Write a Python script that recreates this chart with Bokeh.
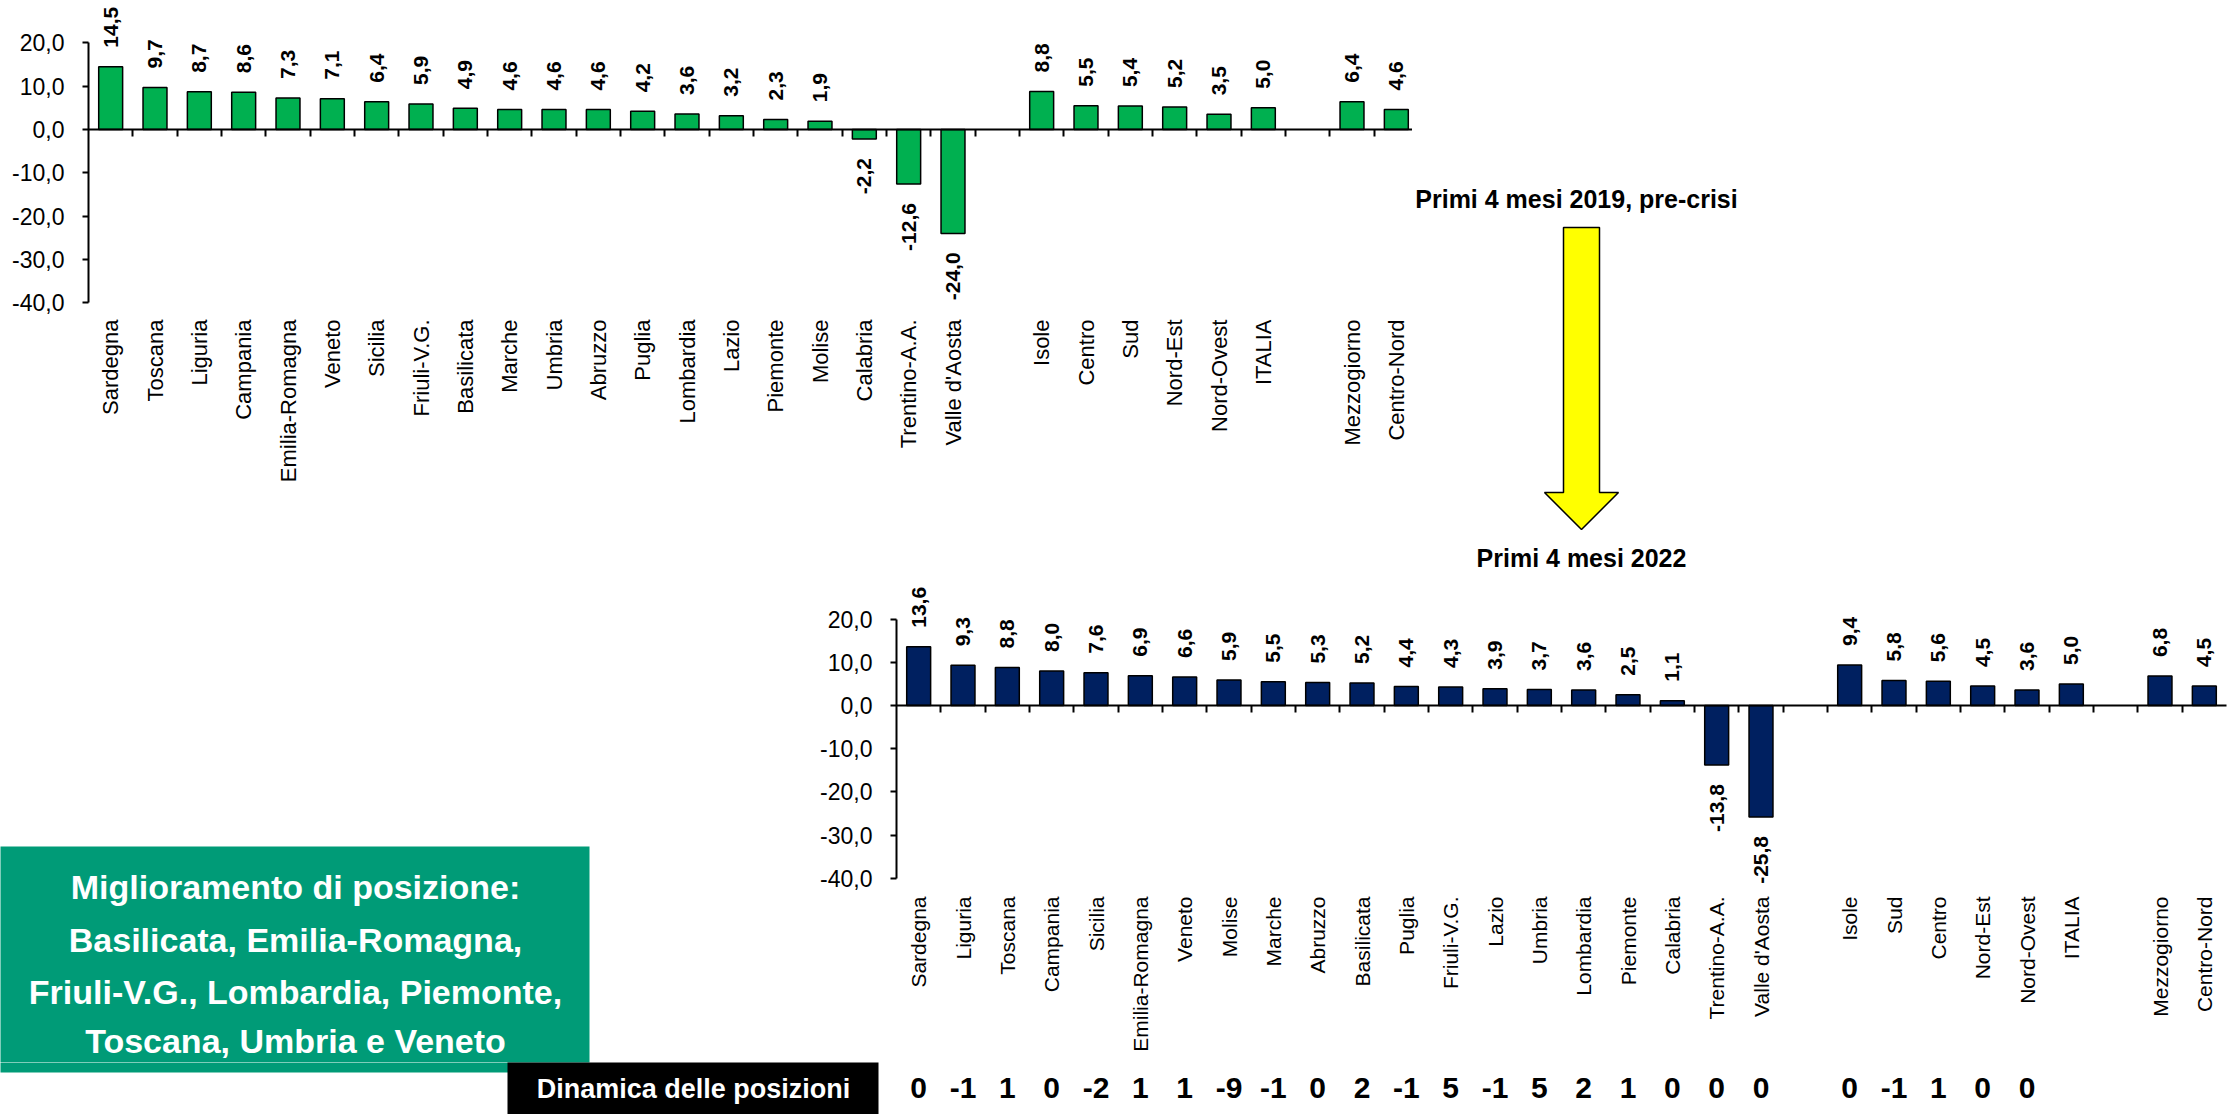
from math import pi
from bokeh.plotting import figure
from bokeh.models import Range1d, LinearAxis, FixedTicker, ColumnDataSource
from bokeh.layouts import column, row
from bokeh.core.properties import value
from bokeh.embed import file_html
from bokeh.resources import INLINE

# ---------------- data ----------------
regioni_2019 = ["Sardegna", "Toscana", "Liguria", "Campania", "Emilia-Romagna", "Veneto", "Sicilia",
                "Friuli-V.G.", "Basilicata", "Marche", "Umbria", "Abruzzo", "Puglia", "Lombardia", "Lazio",
                "Piemonte", "Molise", "Calabria", "Trentino-A.A.", "Valle d'Aosta"]
valori_regioni_2019 = [14.5, 9.7, 8.7, 8.6, 7.3, 7.1, 6.4, 5.9, 4.9, 4.6, 4.6, 4.6, 4.2, 3.6, 3.2,
                       2.3, 1.9, -2.2, -12.6, -24.0]
aree_2019 = ["Isole", "Centro", "Sud", "Nord-Est", "Nord-Ovest", "ITALIA"]
valori_aree_2019 = [8.8, 5.5, 5.4, 5.2, 3.5, 5.0]
macro_2019 = ["Mezzogiorno", "Centro-Nord"]
valori_macro_2019 = [6.4, 4.6]

regioni_2022 = ["Sardegna", "Liguria", "Toscana", "Campania", "Sicilia", "Emilia-Romagna", "Veneto", "Molise",
                "Marche", "Abruzzo", "Basilicata", "Puglia", "Friuli-V.G.", "Lazio", "Umbria", "Lombardia",
                "Piemonte", "Calabria", "Trentino-A.A.", "Valle d'Aosta"]
valori_regioni_2022 = [13.6, 9.3, 8.8, 8.0, 7.6, 6.9, 6.6, 5.9, 5.5, 5.3, 5.2, 4.4, 4.3, 3.9, 3.7, 3.6,
                       2.5, 1.1, -13.8, -25.8]
aree_2022 = ["Isole", "Sud", "Centro", "Nord-Est", "Nord-Ovest", "ITALIA"]
valori_aree_2022 = [9.4, 5.8, 5.6, 4.5, 3.6, 5.0]
macro_2022 = ["Mezzogiorno", "Centro-Nord"]
valori_macro_2022 = [6.8, 4.5]

dinamica_regioni = [0, -1, 1, 0, -2, 1, 1, -9, -1, 0, 2, -1, 5, -1, 5, 2, 1, 0, 0, 0]
dinamica_aree = [0, -1, 1, 0, 0]

y_ticks = [-40, -30, -20, -10, 0, 10, 20]

titolo_2019 = "Primi 4 mesi 2019, pre-crisi"
titolo_2022 = "Primi 4 mesi 2022"
box_lines = ["Miglioramento di posizione:", "Basilicata, Emilia-Romagna,",
             "Friuli-V.G., Lombardia, Piemonte,", "Toscana, Umbria e Veneto"]
box_dinamica = "Dinamica delle posizioni"

# ---------------- layout helpers ----------------
SLOT = 1330 / 30
SANS = "Liberation Sans"


def slot_positions(reg, are, mac):
    p_reg = list(range(len(reg)))
    p_are = [len(reg) + 1 + i for i in range(len(are))]
    p_mac = [len(reg) + len(are) + 2 + i for i in range(len(mac))]
    return p_reg, p_are, p_mac


def fmt(v):
    return f"{v:.1f}".replace(".", ",")


def pixel_fig(x0, x1, y0, y1):
    p = figure(width=x1 - x0, height=y1 - y0, x_range=Range1d(x0, x1), y_range=Range1d(y1, y0),
               output_backend="svg", toolbar_location=None, tools="",
               x_axis_type=None, y_axis_type=None, min_border=0, frame_align=False)
    p.outline_line_color = None
    p.background_fill_color = "white"
    p.border_fill_color = "white"
    return p


def bar_chart(box, frame, zero_y, ppu, label_top, label_size, color, names, pos, vals):
    x0, x1, y0, y1 = box
    fl, fr, ft, fb = frame
    n_slots = 30
    p = figure(width=x1 - x0, height=y1 - y0,
               x_range=Range1d(-0.5, -0.5 + (fr - fl) / SLOT),
               y_range=Range1d((zero_y - fb) / ppu, (zero_y - ft) / ppu),
               output_backend="svg", toolbar_location=None, tools="",
               x_axis_type=None, y_axis_type=None, frame_align=False,
               min_border_left=fl - x0, min_border_right=x1 - fr,
               min_border_top=ft - y0, min_border_bottom=y1 - fb)
    p.outline_line_color = None
    p.background_fill_color = "white"
    p.border_fill_color = "white"
    p.extra_x_ranges = {"px": Range1d(fl, fr)}
    p.extra_y_ranges = {"py": Range1d(fb, ft)}

    # category labels axis
    lab = LinearAxis(ticker=FixedTicker(ticks=pos, minor_ticks=[]),
                     major_label_overrides={k: n for k, n in zip(pos, names)},
                     major_label_orientation=pi / 2)
    lab.axis_line_color = None
    lab.major_tick_line_color = None
    lab.minor_tick_line_color = None
    lab.major_tick_out = 0
    lab.major_tick_in = 0
    lab.major_label_standoff = label_top - fb
    lab.major_label_text_font = SANS
    lab.major_label_text_font_size = label_size
    lab.major_label_text_color = "black"
    p.add_layout(lab, "below")

    # zero line with ticks between categories
    bnd = [i + 0.5 for i in range(n_slots - 1)]
    zero = LinearAxis(fixed_location=0, ticker=FixedTicker(ticks=bnd, minor_ticks=[]),
                      bounds=(-0.5, n_slots - 0.5),
                      major_label_overrides={b: "" for b in bnd})
    zero.major_tick_out = 7
    zero.major_tick_in = 0
    zero.axis_line_width = 2
    zero.axis_line_color = "black"
    zero.major_tick_line_width = 2
    zero.major_tick_line_color = "black"
    zero.minor_tick_line_color = None
    zero.major_label_text_font_size = "1px"
    p.add_layout(zero, "below")

    # value axis
    yax = LinearAxis(ticker=FixedTicker(ticks=y_ticks, minor_ticks=[]),
                     major_label_overrides={t: fmt(t) for t in y_ticks},
                     bounds=(min(y_ticks), max(y_ticks)))
    yax.axis_line_width = 2
    yax.axis_line_color = "black"
    yax.major_tick_line_width = 2
    yax.major_tick_out = 6
    yax.major_tick_in = 0
    yax.minor_tick_line_color = None
    yax.major_label_standoff = 18
    yax.major_label_text_font = SANS
    yax.major_label_text_font_size = "23px"
    yax.major_label_text_color = "black"
    p.add_layout(yax, "left")

    src = ColumnDataSource(dict(x=pos, top=vals))
    p.vbar(x="x", top="top", width=0.54, bottom=0, source=src,
           fill_color=color, line_color="black", line_width=1.5)

    pos_src = ColumnDataSource(dict(x=[x for x, v in zip(pos, vals) if v >= 0],
                                    y=[v for v in vals if v >= 0],
                                    t=[fmt(v) for v in vals if v >= 0]))
    neg_src = ColumnDataSource(dict(x=[x for x, v in zip(pos, vals) if v < 0],
                                    y=[v for v in vals if v < 0],
                                    t=[fmt(v) for v in vals if v < 0]))
    common = dict(angle=pi / 2, text_baseline="middle", text_font=value(SANS),
                  text_font_style="bold", text_font_size="21px", text_color="black")
    p.text(x="x", y="y", text="t", source=pos_src, text_align="left", y_offset=-19, **common)
    p.text(x="x", y="y", text="t", source=neg_src, text_align="right", y_offset=19, **common)
    return p


# ---------------- top chart: 2019 ----------------
r19, a19, m19 = slot_positions(regioni_2019, aree_2019, macro_2019)
top = bar_chart(box=(0, 1412, 0, 535), frame=(88, 1412, 0, 305), zero_y=129, ppu=4.33, label_top=319,
                label_size="22px", color="#00B050",
                names=regioni_2019 + aree_2019 + macro_2019, pos=r19 + a19 + m19,
                vals=valori_regioni_2019 + valori_aree_2019 + valori_macro_2019)

# ---------------- right panel: title + arrow ----------------
right = pixel_fig(1412, 2230, 0, 535)
right.text(x=[1576], y=[198], text=[titolo_2019], text_align="center", text_baseline="middle",
           text_font=value(SANS), text_font_style="bold", text_font_size="25px", text_color="black")
right.patch(x=[1563, 1599, 1599, 1618, 1581, 1544, 1563],
            y=[227, 227, 492, 492, 529, 492, 492],
            fill_color="#FFFF00", line_color="black", line_width=1.5)

# ---------------- left panel: green box ----------------
left = pixel_fig(0, 815, 535, 1062)
left.quad(left=[-10], right=[589], top=[846], bottom=[1080], fill_color="#009B77", line_color=None)
left.text(x=[295] * len(box_lines), y=[886, 939, 991, 1040], text=box_lines,
          text_align="center", text_baseline="middle", text_font=value(SANS),
          text_font_style="bold", text_font_size="34px", text_color="white")

# ---------------- bottom chart: 2022 ----------------
r22, a22, m22 = slot_positions(regioni_2022, aree_2022, macro_2022)
bottom = bar_chart(box=(815, 2230, 535, 1062), frame=(896, 2230, 535, 883), zero_y=705, ppu=4.32,
                   label_top=896, label_size="21px", color="#002060",
                   names=regioni_2022 + aree_2022 + macro_2022, pos=r22 + a22 + m22,
                   vals=valori_regioni_2022 + valori_aree_2022 + valori_macro_2022)
bottom.text(x=[1581], y=[557], text=[titolo_2022], text_align="center", text_baseline="middle",
            x_range_name="px", y_range_name="py",
            text_font=value(SANS), text_font_style="bold", text_font_size="25px", text_color="black")

# ---------------- bottom strip: black box + position changes ----------------
strip = pixel_fig(0, 2230, 1062, 1114)
strip.extra_x_ranges = {"cat": Range1d((0 - 896) / SLOT - 0.5, (2230 - 896) / SLOT - 0.5)}
strip.quad(left=[-10], right=[589], top=[1040], bottom=[1072], fill_color="#009B77", line_color=None)
strip.quad(left=[507], right=[878], top=[1060], bottom=[1130], fill_color="black", line_color=None)
strip.text(x=[693], y=[1088], text=[box_dinamica], text_align="center", text_baseline="middle",
           text_font=value(SANS), text_font_style="bold", text_font_size="27px", text_color="white")
din_pos = r22 + a22[:len(dinamica_aree)]
din_val = dinamica_regioni + dinamica_aree
strip.text(x=din_pos, y=[1087] * len(din_pos), text=[str(d) for d in din_val], x_range_name="cat",
           text_align="center", text_baseline="middle", text_font=value(SANS),
           text_font_style="bold", text_font_size="30px", text_color="black")

layout = column(row(top, right), row(left, bottom), strip)
open("out.html", "w").write(file_html(layout, INLINE))
